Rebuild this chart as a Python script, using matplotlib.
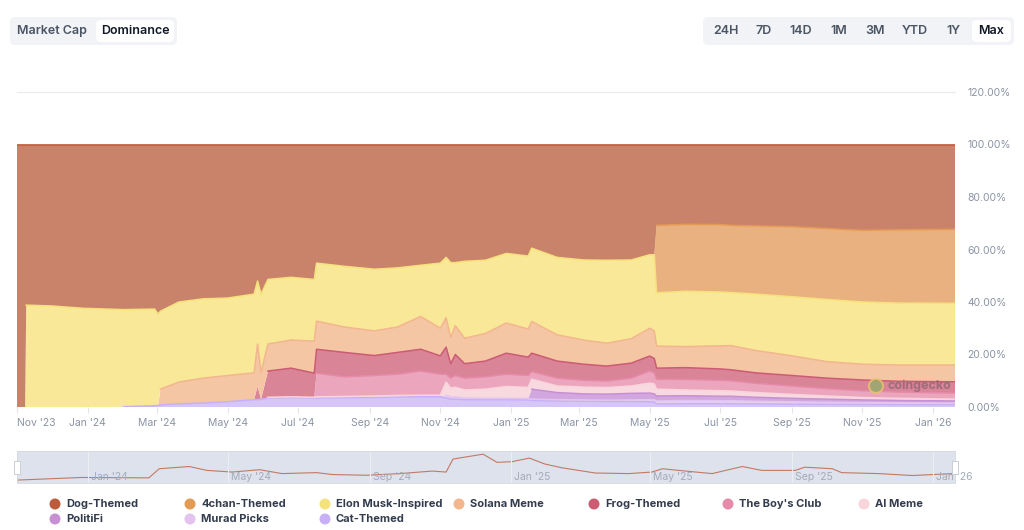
import numpy as np
import matplotlib.pyplot as plt
import matplotlib.dates as mdates
from matplotlib.patches import FancyBboxPatch, Circle, Rectangle
from matplotlib.transforms import IdentityTransform

plt.rcParams['font.family'] = ['Inter', 'DejaVu Sans']

# ---- data: dominance share (%) per category ----
dates = np.array([
    '2023-11-01', '2023-11-08', '2023-11-09', '2023-12-01', '2023-12-28', '2024-01-25',
    '2024-02-01', '2024-02-28', '2024-03-02', '2024-03-04', '2024-03-20', '2024-04-10',
    '2024-05-01', '2024-05-24', '2024-05-27', '2024-05-30', '2024-06-05', '2024-06-25',
    '2024-07-15', '2024-07-17', '2024-08-10', '2024-09-05', '2024-09-25', '2024-10-15',
    '2024-11-01', '2024-11-06', '2024-11-10', '2024-11-14', '2024-11-22', '2024-12-10',
    '2024-12-28', '2025-01-16', '2025-01-19', '2025-02-10', '2025-03-05', '2025-03-25',
    '2025-04-15', '2025-05-01', '2025-05-05', '2025-05-07', '2025-06-01', '2025-07-01',
    '2025-07-10', '2025-08-01', '2025-09-01', '2025-10-01', '2025-11-01', '2025-12-01',
    '2026-01-20'], dtype='datetime64[D]')

cat_themed = [0, 0, 0, 0, 0, 0, 0.1, 0.5, 0.6, 0.8, 1.2, 1.5, 2.0, 2.8, 2.8, 2.9, 3.4, 3.6,
              3.4, 3.4, 3.5, 3.6, 3.8, 3.9, 3.9, 3.5, 3.0, 3.0, 2.8, 2.8, 2.8, 2.7, 2.5, 2.3,
              2.2, 2.1, 2.1, 2.0, 1.9, 1.2, 1.3, 1.3, 1.3, 1.2, 1.1, 1.0, 1.0, 0.9, 0.9]
murad_picks = [0] * 25 + [1.0, 0.8, 0.8, 0.6, 0.5, 0.5, 0.5, 0.5, 0.5, 0.5, 0.5, 0.6, 0.8,
                          0.8, 1.1, 1.2, 1.1, 1.1, 1.0, 0.9, 0.8, 0.7, 0.7, 0.6]
politifi = [0] * 32 + [3.8, 2.7, 2.3, 2.3, 2.5, 2.5, 2.3, 1.9, 1.8, 1.7, 1.7, 1.5, 1.3, 1.2,
                       1.0, 0.9, 0.8]
ai_meme = [0] * 16 + [0.3, 0.3, 0.3, 0.5, 0.5, 0.6, 0.6, 0.6, 0.6, 5.0, 3.4, 3.7, 3.1, 3.5,
                      4.5, 4.3, 3.8, 2.5, 2.6, 2.5, 2.8, 3.8, 3.8, 2.6, 2.2, 2.1, 2.0, 1.8,
                      1.5, 1.2, 0.9, 0.8, 0.7]
boys_club = [0] * 19 + [9.0, 7.5, 7.8, 8.1, 9.2, 8.0, 3.0, 3.8, 4.5, 4.5, 4.7, 4.7, 4.5, 2.9,
                        3.0, 2.6, 2.5, 3.0, 4.6, 4.2, 3.8, 4.0, 4.0, 3.9, 3.5, 3.2, 2.8, 2.6,
                        2.4, 2.3]
frog_themed = [0] * 14 + [5.0, 0, 10.0, 10.9, 9.2, 9.1, 9.3, 7.6, 8.3, 8.3, 7.0, 10.3, 5.5, 8.0,
                          5.5, 6.0, 8.0, 7.0, 7.0, 6.5, 6.1, 5.7, 5.7, 5.7, 5.5, 4.2, 4.5, 4.3,
                          4.2, 4.0, 4.0, 4.0, 4.1, 4.1, 4.3]
solana_meme = [0] * 9 + [6.0, 8.3, 9.5, 10.0, 10.2, 16.2, 10.3, 10.3, 10.7, 12.2, 10.7, 9.7, 9.4,
                         9.7, 12.5, 10.5, 11.2, 10.0, 11.0, 9.7, 10.5, 11.5, 10.7, 12.1, 10.0,
                         9.2, 8.7, 9.3, 10.6, 10.5, 8.4, 8.0, 8.8, 9.2, 8.5, 7.5, 6.3, 6.0, 6.2,
                         6.4]
elon_musk = [0, 0, 38.8, 38.5, 37.6, 37.2, 37.0, 36.8, 34.8, 29.7, 30.5, 30.2, 29.5, 30.0, 24.0,
             29.8, 24.6, 23.9, 23.5, 22.1, 23.1, 23.5, 22.5, 19.5, 24.8, 23.0, 28.5, 24.0, 29.3,
             27.9, 26.5, 27.8, 27.9, 29.5, 30.5, 31.6, 30.0, 28.0, 29.0, 20.3, 21.1, 20.5, 20.2,
             21.5, 22.5, 23.7, 23.7, 23.6, 23.5]
chan_themed = [0] * 39 + [25.7, 25.5, 25.7, 25.6, 26.0, 26.7, 27.0, 27.3, 27.9, 28.2]
dog_themed = [100, 100, 61.2, 61.5, 62.4, 62.8, 62.9, 62.7, 64.6, 63.5, 60.0, 58.8, 58.5, 57.0,
              52.0, 57.0, 51.4, 50.6, 51.4, 45.2, 46.4, 47.5, 47.0, 46.0, 45.2, 43.0, 45.0, 45.0,
              44.5, 44.1, 41.5, 42.5, 39.5, 43.0, 44.0, 44.1, 44.0, 42.0, 42.0, 30.8, 30.4, 30.5,
              30.8, 31.0, 31.3, 32.0, 32.7, 32.5, 32.3]

# legend order (top of stack first)
names = ['Dog-Themed', '4chan-Themed', 'Elon Musk-Inspired', 'Solana Meme', 'Frog-Themed',
         "The Boy's Club", 'AI Meme', 'PolitiFi', 'Murad Picks', 'Cat-Themed']
series = [dog_themed, chan_themed, elon_musk, solana_meme, frog_themed,
          boys_club, ai_meme, politifi, murad_picks, cat_themed]
line_colors = ['#bd5b3b', '#e39a55', '#f6e27c', '#f3b68e', '#cc5b74',
               '#e58aa9', '#f8d4dc', '#c790d3', '#e2c4ee', '#c8b0f6']
fill_colors = ['#c8836a', '#e8b17f', '#f8e898', '#f5c6a4', '#da8497',
               '#eba6be', '#f9d9e0', '#d2a6de', '#e8d2f2', '#d6c5f9']

# navigator series
nav_dates = np.array([
    '2023-11-01', '2023-12-27', '2024-02-23', '2024-03-03', '2024-03-29', '2024-04-13',
    '2024-05-05', '2024-05-29', '2024-06-17', '2024-07-17', '2024-07-31', '2024-08-29',
    '2024-09-27', '2024-10-25', '2024-11-06', '2024-11-12', '2024-11-29', '2024-12-08',
    '2024-12-20', '2025-01-02', '2025-01-17', '2025-01-30', '2025-02-14', '2025-03-15',
    '2025-04-13', '2025-05-03', '2025-05-12', '2025-05-26', '2025-06-24', '2025-07-20',
    '2025-08-06', '2025-09-04', '2025-09-12', '2025-10-06', '2025-10-14', '2025-11-15',
    '2025-12-14', '2026-01-18'], dtype='datetime64[D]')
nav_values = [3.0, 5.7, 5.3, 14.7, 17.0, 13.0, 11.3, 13.7, 9.7, 10.7, 8.7, 8.0, 9.7, 12.3, 11.3,
              24.7, 28.0, 29.7, 21.3, 22.0, 25.7, 19.7, 15.7, 10.3, 9.7, 11.3, 14.7, 13.0, 9.7,
              17.0, 13.0, 13.0, 16.3, 14.7, 10.7, 9.7, 7.7, 9.7]

tick_dates = np.array(['2023-11-01', '2024-01-01', '2024-03-01', '2024-05-01', '2024-07-01',
                       '2024-09-01', '2024-11-01', '2025-01-01', '2025-03-01', '2025-05-01',
                       '2025-07-01', '2025-09-01', '2025-11-01', '2026-01-01'], dtype='datetime64[D]')
nav_tick_dates = np.array(['2024-01-01', '2024-05-01', '2024-09-01', '2025-01-01', '2025-05-01',
                           '2025-09-01', '2026-01-01'], dtype='datetime64[D]')

W, H = 1024, 530
fig = plt.figure(figsize=(W / 100, H / 100), dpi=100)
fig.patch.set_facecolor('white')

def fx(x):
    return x / W

def fy(y):
    return 1 - y / H

x0, x1 = np.datetime64('2023-11-01'), np.datetime64('2026-01-20')

# ---- main chart ----
ax = fig.add_axes([fx(17), fy(407), (955 - 17) / W, 315 / H])
ax.set_facecolor('white')
stack_data = series[::-1]
ax.stackplot(dates, *stack_data, colors=fill_colors[::-1], linewidth=0)
tops = np.cumsum(np.array(stack_data, dtype=float), axis=0)
for top, c, vals in zip(tops, line_colors[::-1], stack_data):
    v = np.array(vals, dtype=float)
    ax.plot(dates, np.where(v > 0, top, np.nan), color=c, lw=1.1)
ax.set_xlim(x0, x1)
ax.set_ylim(0, 120)
ax.axhline(120, color='#e9ebef', lw=0.8, clip_on=False)
for s in ax.spines.values():
    s.set_visible(False)
ax.yaxis.tick_right()
ax.set_yticks([0, 20, 40, 60, 80, 100, 120])
ax.set_yticklabels(['%.2f%%' % v for v in [0, 20, 40, 60, 80, 100, 120]])
ax.tick_params(axis='y', length=0, pad=9, labelsize=7.5, labelcolor='#8b93a3')
ax.set_xticks(tick_dates)
ax.xaxis.set_major_formatter(mdates.DateFormatter("%b '%y"))
ax.tick_params(axis='x', length=4, color='#e3e6eb', pad=4, labelsize=7.5, labelcolor='#8b93a3')
ax.get_xticklabels()[0].set_ha('left')

# watermark
fig.add_artist(Circle((876, H - 386), 7, transform=IdentityTransform(), facecolor='#8fb06a',
                      edgecolor='#f0c56c', lw=1.5, alpha=0.75))
fig.text(fx(887), fy(386), 'coingecko', fontsize=9, fontweight='bold', color='#6d5a63',
         alpha=0.55, va='center', ha='left')

# ---- navigator ----
nav = fig.add_axes([fx(17), fy(483), (955 - 17) / W, 32 / H])
nav.set_facecolor('#dde2ed')
nav.plot(nav_dates, nav_values, color='#c27a62', lw=0.8)
nav.set_xlim(x0, x1)
nav.set_ylim(0, 33)
for d in nav_tick_dates:
    nav.axvline(d, color='#eceef4', lw=0.8)
    nav.text(d + np.timedelta64(3, 'D'), 6.5, mdates.num2date(mdates.date2num(d)).strftime("%b '%y"),
             fontsize=7.5, color='#a4abb9', ha='left', va='center', clip_on=False)
nav.set_xticks([])
nav.set_yticks([])
for s in nav.spines.values():
    s.set_color('#d3d8e3')
    s.set_linewidth(0.6)
for hx in (17, 955):
    fig.add_artist(Rectangle((hx - 3, H - 474), 6, 13, transform=IdentityTransform(),
                             facecolor='white', edgecolor='#c9ced8', lw=0.7))

# ---- buttons ----
def rbox(x, y, w, h, fc, ec='none', r=5):
    p = FancyBboxPatch((x, H - y - h), w, h, boxstyle='round,pad=0,rounding_size=%d' % r,
                       transform=IdentityTransform(), facecolor=fc, edgecolor=ec, lw=0.6)
    fig.add_artist(p)

rbox(10, 17, 167, 28, '#f1f3f7')
rbox(96, 20, 78, 22, 'white')
fig.text(fx(52), fy(31), 'Market Cap', fontsize=9, fontweight='semibold', color='#4b5563',
         ha='center', va='center')
fig.text(fx(135), fy(31), 'Dominance', fontsize=9, fontweight='semibold', color='#111827',
         ha='center', va='center')

rbox(703, 17, 311, 28, '#f1f3f7')
rbox(972, 20, 39, 22, 'white')
ranges = ['24H', '7D', '14D', '1M', '3M', 'YTD', '1Y', 'Max']
range_x = [726, 764, 801, 839, 875, 915, 953, 991]
for lab, bx in zip(ranges, range_x):
    fig.text(fx(bx), fy(31), lab, fontsize=9, fontweight='semibold',
             color='#111827' if lab == 'Max' else '#4b5563', ha='center', va='center')

# ---- legend ----
leg_x = [55, 190, 325, 459, 594, 728, 864, 55, 190, 325]
leg_y = [504, 504, 504, 504, 504, 504, 504, 519, 519, 519]
for name, c, lx, ly in zip(names, line_colors, leg_x, leg_y):
    fig.add_artist(Circle((lx, H - ly), 5.5, transform=IdentityTransform(),
                          facecolor=c, edgecolor='none'))
    fig.text(fx(lx + 11), fy(ly), name, fontsize=8, fontweight='bold', color='#333c4d',
             ha='left', va='center')

fig.savefig('out.png', dpi=100)
